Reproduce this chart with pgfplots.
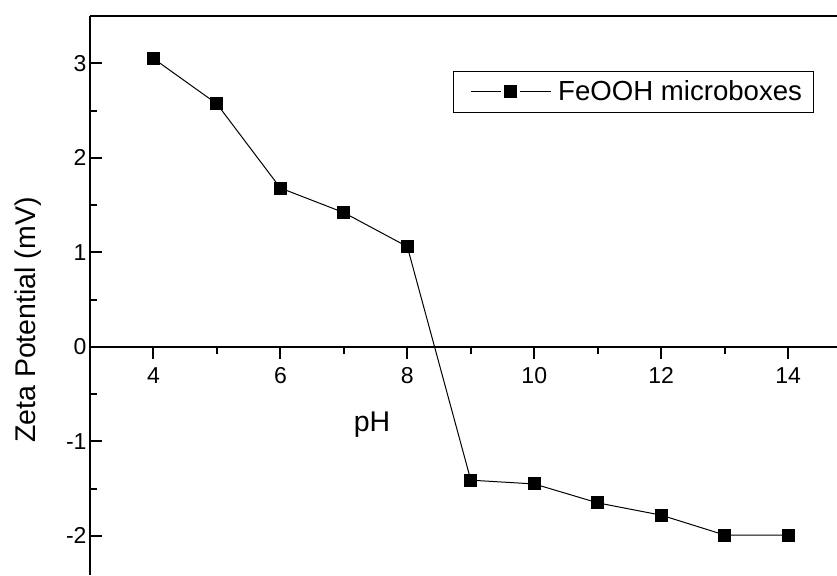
\documentclass[border=0pt]{standalone}
\usepackage{pgfplots}
\pgfplotsset{compat=1.18}
\usepackage{fontspec}
\setmainfont{Liberation Sans}
\begin{document}
\begin{tikzpicture}
\path[use as bounding box] (0pt,0pt) rectangle (837pt,575pt);
\begin{axis}[
  scale only axis,
  width=747pt, height=559pt,
  at={(90pt,0pt)}, anchor=south west,
  xmin=3, xmax=14.77,
  ymin=-2.413, ymax=3.5,
  axis x line=middle,
  axis y line=left,
  axis line style={-, line width=2pt},
  xtick={4,6,8,10,12,14},
  minor xtick={5,7,9,11,13},
  ytick={-2,-1,0,1,2,3},
  minor ytick={-1.5,-0.5,0.5,1.5,2.5},
  major tick length=12pt,
  minor tick length=7pt,
  every tick/.style={black, line width=2pt},
  xtick align=outside,
  ytick align=inside,
  /pgf/number format/assume math mode=true,
  tick label style={font=\fontsize{23}{27}\selectfont},
  xticklabel style={yshift=-5pt},
  xlabel={pH},
  ylabel={Zeta Potential (mV)},
  label style={font=\fontsize{28.5}{32}\selectfont},
  xlabel style={at={(axis description cs:0.3775,0.2683)}, anchor=center},
  ylabel style={at={(axis description cs:-0.083,0.456)}, anchor=center, rotate=0},
  clip=false,
  legend style={at={(axis description cs:0.4855,0.9016)}, anchor=north west,
    draw=black, line width=1pt, font=\fontsize{27.6}{31}\selectfont,
    inner xsep=9pt, inner ysep=7.5pt},
  legend cell align=left,
  legend image code/.code={%
    \path (-8.5pt,0pt);
    \draw[black, line width=1pt] (0pt,0pt) -- (30pt,0pt);
    \fill[black] (33pt,-6pt) rectangle (45pt,6pt);
    \draw[black, line width=1pt] (49pt,0pt) -- (80pt,0pt);
    \path (84.5pt,0pt);},
]
\addplot[black, line width=1pt, mark=square*, mark size=6pt, mark options={solid, fill=black, line width=0pt}]
  coordinates {
  (4,3.05) (5,2.57) (6,1.68) (7,1.42) (8,1.06)
  (9,-1.41) (10,-1.45) (11,-1.65) (12,-1.78) (13,-1.99) (14,-1.99)
  };
\addlegendentry{FeOOH microboxes}
\draw[line width=2pt] (rel axis cs:0,1) -- (rel axis cs:1,1);
\end{axis}
\end{tikzpicture}
\end{document}
